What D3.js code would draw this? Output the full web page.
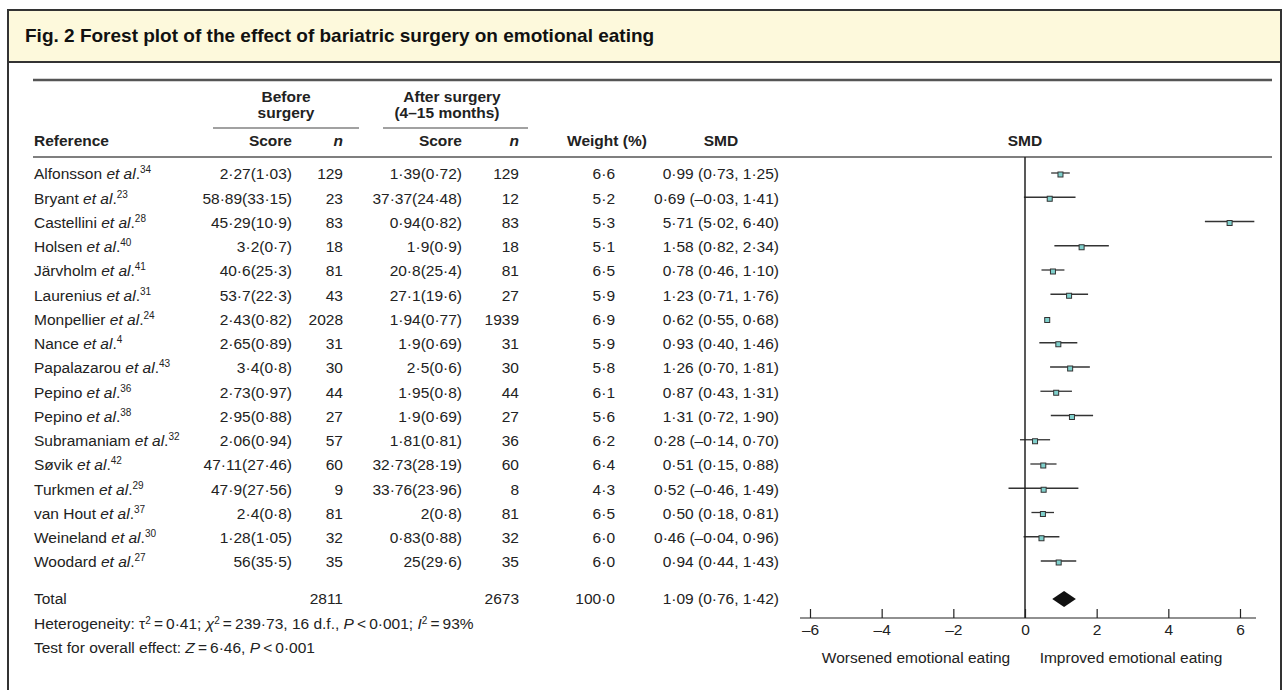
<!DOCTYPE html>
<html lang="en">
<head>
<meta charset="UTF-8">
<title>Forest plot - bariatric surgery and emotional eating</title>
<script src="https://d3js.org/d3.v7.min.js"></script>
<style>
    body, html { margin: 0; padding: 0; background: #fff; }
    svg { display: block; font-family: 'Liberation Sans', Arial, sans-serif; }
    .cell { font-size: 15.5px; fill: #222; }
    .head { font-size: 15.5px; font-weight: bold; fill: #222; }
</style>
</head>
<body>
<svg id="chart"></svg>
<script>
    // ---- data ----
    const authors = ["Alfonsson", "Bryant", "Castellini", "Holsen", "Järvholm", "Laurenius", "Monpellier",
        "Nance", "Papalazarou", "Pepino", "Pepino", "Subramaniam", "Søvik", "Turkmen", "van Hout", "Weineland", "Woodard"];
    const refNums = ["34", "23", "28", "40", "41", "31", "24", "4", "43", "36", "38", "32", "42", "29", "37", "30", "27"];
    const beforeScore = ["2·27(1·03)", "58·89(33·15)", "45·29(10·9)", "3·2(0·7)", "40·6(25·3)", "53·7(22·3)", "2·43(0·82)",
        "2·65(0·89)", "3·4(0·8)", "2·73(0·97)", "2·95(0·88)", "2·06(0·94)", "47·11(27·46)", "47·9(27·56)", "2·4(0·8)", "1·28(1·05)", "56(35·5)"];
    const beforeN = [129, 23, 83, 18, 81, 43, 2028, 31, 30, 44, 27, 57, 60, 9, 81, 32, 35];
    const afterScore = ["1·39(0·72)", "37·37(24·48)", "0·94(0·82)", "1·9(0·9)", "20·8(25·4)", "27·1(19·6)", "1·94(0·77)",
        "1·9(0·69)", "2·5(0·6)", "1·95(0·8)", "1·9(0·69)", "1·81(0·81)", "32·73(28·19)", "33·76(23·96)", "2(0·8)", "0·83(0·88)", "25(29·6)"];
    const afterN = [129, 12, 83, 18, 81, 27, 1939, 31, 30, 44, 27, 36, 60, 8, 81, 32, 35];
    const weights = [6.6, 5.2, 5.3, 5.1, 6.5, 5.9, 6.9, 5.9, 5.8, 6.1, 5.6, 6.2, 6.4, 4.3, 6.5, 6.0, 6.0];
    const smd = [0.99, 0.69, 5.71, 1.58, 0.78, 1.23, 0.62, 0.93, 1.26, 0.87, 1.31, 0.28, 0.51, 0.52, 0.50, 0.46, 0.94];
    const ciLow = [0.73, -0.03, 5.02, 0.82, 0.46, 0.71, 0.55, 0.40, 0.70, 0.43, 0.72, -0.14, 0.15, -0.46, 0.18, -0.04, 0.44];
    const ciHigh = [1.25, 1.41, 6.40, 2.34, 1.10, 1.76, 0.68, 1.46, 1.81, 1.31, 1.90, 0.70, 0.88, 1.49, 0.81, 0.96, 1.43];
    const total = { before: 2811, after: 2673, weight: 100.0, smd: 1.09, lo: 0.76, hi: 1.42 };
    const xTicks = [-6, -4, -2, 0, 2, 4, 6];

    const W = 1285, H = 690;
    const svg = d3.select("#chart").attr("width", W).attr("height", H);

    const fmtNum = (v, d) => (v < 0 ? "–" : "") + Math.abs(v).toFixed(d).replace(".", "·");
    const fmtCI = (m, l, h) => `${fmtNum(m, 2)} (${fmtNum(l, 2)}, ${fmtNum(h, 2)})`;
    const th = "\u2009"; // thin space

    // frame + title bar
    svg.append("rect").attr("x", 8).attr("y", 10).attr("width", 1273).attr("height", 52)
        .attr("fill", "#fdf9dc").attr("stroke", "none");
    svg.append("rect").attr("x", 8).attr("y", 10).attr("width", 1273).attr("height", 700)
        .attr("fill", "none").attr("stroke", "#333").attr("stroke-width", 2);
    svg.append("line").attr("x1", 8).attr("x2", 1281).attr("y1", 62).attr("y2", 62)
        .attr("stroke", "#333").attr("stroke-width", 2);
    svg.append("text").attr("x", 25).attr("y", 42)
        .style("font-size", "19px").style("font-weight", "bold").attr("fill", "#111")
        .text("Fig. 2 Forest plot of the effect of bariatric surgery on emotional eating");

    // rules
    svg.append("line").attr("x1", 33).attr("x2", 1272).attr("y1", 80).attr("y2", 80)
        .attr("stroke", "#555").attr("stroke-width", 2.5);
    svg.append("line").attr("x1", 33).attr("x2", 1272).attr("y1", 157).attr("y2", 157)
        .attr("stroke", "#555").attr("stroke-width", 1.5);
    svg.append("line").attr("x1", 213).attr("x2", 359).attr("y1", 128).attr("y2", 128)
        .attr("stroke", "#444").attr("stroke-width", 1.2);
    svg.append("line").attr("x1", 383).attr("x2", 528).attr("y1", 128).attr("y2", 128)
        .attr("stroke", "#444").attr("stroke-width", 1.2);

    // column positions
    const col = { ref: 34, bScore: 292, bN: 343, aScore: 462, aN: 519, weight: 615, smd: 779 };

    // headers
    const head = (x, y, t, anchor, italic) => svg.append("text").attr("class", "head")
        .attr("x", x).attr("y", y).attr("dy", "0.35em").attr("text-anchor", anchor)
        .style("font-style", italic ? "italic" : "normal").text(t);
    head(286, 97, "Before", "middle");
    head(286, 113, "surgery", "middle");
    head(452, 97, "After surgery", "middle");
    head(447, 113, "(4–15 months)", "middle");
    head(col.ref, 141, "Reference", "start");
    head(col.bScore, 141, "Score", "end");
    head(col.bN, 141, "n", "end", true);
    head(col.aScore, 141, "Score", "end");
    head(col.aN, 141, "n", "end", true);
    head(607, 141, "Weight (%)", "middle");
    head(721, 141, "SMD", "middle");
    head(1025, 141, "SMD", "middle");

    // row scale
    const y = d3.scalePoint().domain(d3.range(authors.length)).range([174, 562]);
    const x = d3.scaleLinear().domain([-6, 6]).range([810, 1240]);
    const yTotal = 599;

    const rows = svg.append("g").selectAll("g.row").data(authors).join("g").attr("class", "row")
        .attr("transform", (d, i) => `translate(0,${y(i)})`);

    const refText = rows.append("text").attr("class", "cell").attr("x", col.ref).attr("dy", "0.35em");
    refText.append("tspan").text(d => d + " ");
    refText.append("tspan").style("font-style", "italic").text("et al");
    refText.append("tspan").text(".");
    refText.append("tspan").attr("dy", -6).style("font-size", "10px").text((d, i) => refNums[i]);

    const cellText = (x0, fn) => rows.append("text").attr("class", "cell").attr("x", x0)
        .attr("dy", "0.35em").attr("text-anchor", "end").text(fn);
    cellText(col.bScore, (d, i) => beforeScore[i]);
    cellText(col.bN, (d, i) => beforeN[i]);
    cellText(col.aScore, (d, i) => afterScore[i]);
    cellText(col.aN, (d, i) => afterN[i]);
    cellText(col.weight, (d, i) => fmtNum(weights[i], 1));
    cellText(col.smd, (d, i) => fmtCI(smd[i], ciLow[i], ciHigh[i]));

    // total row
    const tot = svg.append("g").attr("transform", `translate(0,${yTotal})`);
    const totCell = (x0, t, anchor) => tot.append("text").attr("class", "cell").attr("x", x0)
        .attr("dy", "0.35em").attr("text-anchor", anchor || "end").text(t);
    totCell(col.ref, "Total", "start");
    totCell(col.bN, total.before);
    totCell(col.aN, total.after);
    totCell(col.weight, fmtNum(total.weight, 1));
    totCell(col.smd, fmtCI(total.smd, total.lo, total.hi));

    // heterogeneity + overall effect
    const het = svg.append("text").attr("class", "cell").attr("x", col.ref).attr("y", 624).attr("dy", "0.35em");
    het.append("tspan").text("Heterogeneity: τ");
    het.append("tspan").attr("dy", -5).style("font-size", "10px").text("2");
    het.append("tspan").attr("dy", 5).text(`${th}=${th}0·41; `);
    het.append("tspan").style("font-style", "italic").text("χ");
    het.append("tspan").attr("dy", -5).style("font-size", "10px").text("2");
    het.append("tspan").attr("dy", 5).text(`${th}=${th}239·73, 16 d.f., `);
    het.append("tspan").style("font-style", "italic").text("P");
    het.append("tspan").text(`${th}<${th}0·001; `);
    het.append("tspan").style("font-style", "italic").text("I");
    het.append("tspan").attr("dy", -5).style("font-size", "10px").text("2");
    het.append("tspan").attr("dy", 5).text(`${th}=${th}93%`);

    const ovr = svg.append("text").attr("class", "cell").attr("x", col.ref).attr("y", 648).attr("dy", "0.35em");
    ovr.append("tspan").text("Test for overall effect: ");
    ovr.append("tspan").style("font-style", "italic").text("Z");
    ovr.append("tspan").text(`${th}=${th}6·46, `);
    ovr.append("tspan").style("font-style", "italic").text("P");
    ovr.append("tspan").text(`${th}<${th}0·001`);

    // plot: zero line
    const axisY = 618;
    svg.append("line").attr("x1", x(0)).attr("x2", x(0)).attr("y1", 157).attr("y2", axisY)
        .attr("stroke", "#222").attr("stroke-width", 1.5);

    // CI lines + squares
    rows.append("line")
        .attr("x1", (d, i) => x(ciLow[i])).attr("x2", (d, i) => x(ciHigh[i]))
        .attr("y1", -1).attr("y2", -1)
        .attr("stroke", "#333").attr("stroke-width", 1.3);
    rows.append("rect")
        .attr("x", (d, i) => x(smd[i]) - 2.5).attr("y", -2)
        .attr("width", 5).attr("height", 5)
        .attr("fill", "#7fd0cc").attr("stroke", "#333").attr("stroke-width", 1);

    // summary diamond
    svg.append("path")
        .attr("d", `M${x(total.lo)},${yTotal} L${x(total.smd)},${yTotal - 8} L${x(total.hi)},${yTotal} L${x(total.smd)},${yTotal + 8} Z`)
        .attr("fill", "#111");

    // x axis
    svg.append("line").attr("x1", 800).attr("x2", 1256).attr("y1", axisY).attr("y2", axisY)
        .attr("stroke", "#222").attr("stroke-width", 1.2);
    const axis = svg.append("g").attr("transform", `translate(0,${axisY})`)
        .call(d3.axisBottom(x).tickValues(xTicks).tickSize(-9).tickPadding(6)
            .tickFormat(d => (d < 0 ? "–" : "") + Math.abs(d)));
    axis.select(".domain").remove();
    axis.selectAll("line").attr("stroke", "#222").attr("stroke-width", 1.2);
    axis.selectAll("text").style("font-size", "15.5px").attr("fill", "#222")
        .style("font-family", "'Liberation Sans', Arial, sans-serif");

    svg.append("text").attr("class", "cell").attr("x", 916).attr("y", 658).attr("dy", "0.35em")
        .attr("text-anchor", "middle").text("Worsened emotional eating");
    svg.append("text").attr("class", "cell").attr("x", 1131).attr("y", 658).attr("dy", "0.35em")
        .attr("text-anchor", "middle").text("Improved emotional eating");
</script>
</body>
</html>
